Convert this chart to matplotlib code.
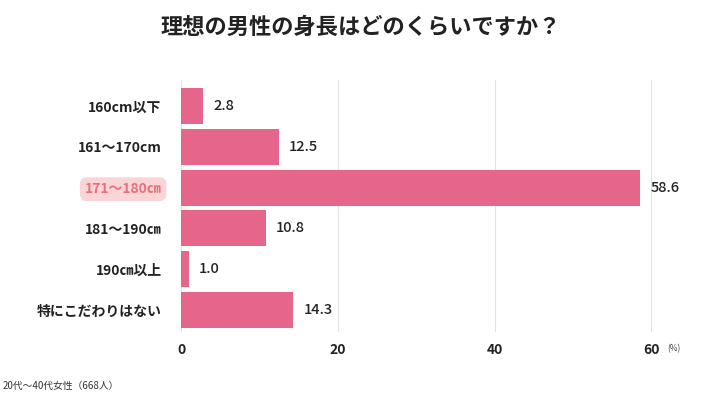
import matplotlib
matplotlib.use("Agg")
import matplotlib.pyplot as plt

plt.rcParams['font.family'] = ['Noto Sans CJK JP', 'DejaVu Sans']

categories = ['160cm以下', '161〜170cm', '171〜180㎝', '181〜190㎝', '190㎝以上', '特にこだわりはない']
values = [2.8, 12.5, 58.6, 10.8, 1.0, 14.3]
highlight = 2
xticks = [0, 20, 40, 60]

bar_color = '#E6658A'

fig = plt.figure(figsize=(7.22, 3.97), dpi=100)
ax = fig.add_axes([181 / 722, 1 - 332 / 397, (714 - 181) / 722, (332 - 80) / 397])

ypos = list(range(len(categories)))
ax.barh(ypos, values, height=0.88, color=bar_color, zorder=3)

for y, v in zip(ypos, values):
    ax.text(v + 1.3, y, f'{v:.1f}', va='center', ha='left', fontsize=10.5,
            fontweight='medium', color='#222222')

ax.set_xlim(0, 68)
ax.set_ylim(5.54, -0.64)
ax.set_xticks(xticks)
ax.set_xticklabels([str(t) for t in xticks], fontsize=10, fontweight='bold', color='#222222')
ax.set_yticks(ypos)
ax.set_yticklabels(categories, fontsize=10, fontweight='bold', color='#222222')
ax.tick_params(axis='both', length=0)
ax.tick_params(axis='y', pad=14)
ax.tick_params(axis='x', pad=8)

for lab in ax.get_yticklabels():
    if lab.get_text() == categories[highlight]:
        lab.set_color('#E8707A')
        lab.set_bbox(dict(boxstyle='round,pad=0.35,rounding_size=0.5',
                          facecolor='#FAD5D7', edgecolor='none'))

ax.grid(axis='x', color='#E3E3E3', linewidth=0.8, zorder=0)
ax.set_axisbelow(True)
for s in ax.spines.values():
    s.set_visible(False)

# unit label next to the last tick
ax.text(62.0, -0.065, '(%)', transform=ax.get_xaxis_transform(), fontsize=6,
        color='#444444', va='center', ha='left')

fig.text(0.5, 1 - 27 / 397, '理想の男性の身長はどのくらいですか？', ha='center', va='center',
         fontsize=16, fontweight='bold', color='#222222')
fig.text(3 / 722, 1 - 386 / 397, '20代〜40代女性（668人）', ha='left', va='center',
         fontsize=7, color='#333333')

fig.savefig('out.png', dpi=100)
